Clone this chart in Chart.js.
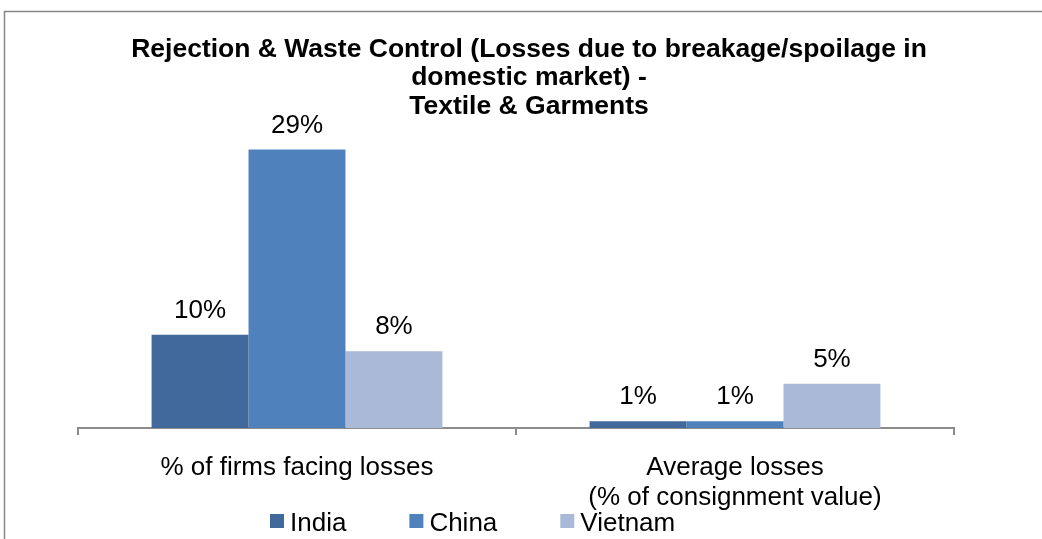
<!DOCTYPE html>
<html>
<head>
<meta charset="utf-8">
<script src="https://cdn.jsdelivr.net/npm/chart.js@4/dist/chart.umd.min.js"></script>
<style>
    html, body { margin: 0; padding: 0; background: #ffffff; }
    #wrap { width: 1042px; height: 539px; position: relative; }
</style>
</head>
<body>
<div id="wrap"><canvas id="lossChart" width="1042" height="539"></canvas></div>
<script>
/*
    rejection & waste control - textile & garments
    grouped bars, one group per measure, one bar per country
*/

// data
const categories = [
    ['% of firms facing losses'],
    ['Average losses', '(% of consignment value)']
];
const countries = ['India', 'China', 'Vietnam'];
const indiaValues = [9.7, 0.7];
const chinaValues = [29.0, 0.7];
const vietnamValues = [8.0, 4.6];
const titleLines = [
    'Rejection & Waste Control (Losses due to breakage/spoilage in',
    'domestic market) -',
    'Textile & Garments'
];

const seriesColors = ['#41699b', '#4f81bd', '#aab9d7'];
const FONT = '"Liberation Sans", Arial, sans-serif';

// outer frame, title, value labels and legend are drawn by hand
const decorations = {
    id: 'decorations',
    beforeDraw(chart) {
        const ctx = chart.ctx;
        ctx.save();
        ctx.strokeStyle = '#868686';
        ctx.lineWidth = 1.5;
        ctx.strokeRect(4.5, 11.5, 1200, 700);
        ctx.restore();
    },
    afterDraw(chart) {
        const ctx = chart.ctx;
        ctx.save();
        ctx.fillStyle = '#000000';

        // title
        ctx.font = 'bold 26.5px ' + FONT;
        ctx.textAlign = 'center';
        ctx.textBaseline = 'alphabetic';
        const titleBase = [57, 85, 114];
        titleLines.forEach((line, i) => ctx.fillText(line, 529, titleBase[i]));

        // value labels above the bars
        ctx.font = '26px ' + FONT;
        chart.data.datasets.forEach((ds, di) => {
            chart.getDatasetMeta(di).data.forEach((bar, i) => {
                ctx.fillText(Math.round(ds.data[i]) + '%', bar.x, bar.y - 17);
            });
        });

        // legend
        ctx.textAlign = 'left';
        let x = 270;
        chart.data.datasets.forEach(ds => {
            ctx.fillStyle = ds.backgroundColor;
            ctx.fillRect(x, 514, 14, 14);
            ctx.fillStyle = '#000000';
            ctx.fillText(ds.label, x + 20, 531);
            x += 20 + ctx.measureText(ds.label).width + 63;
        });
        ctx.restore();
    }
};

const chart = new Chart('lossChart', {
    type: 'bar',
    data: {
        labels: categories,
        datasets: [
            { label: countries[0], data: indiaValues, backgroundColor: seriesColors[0] },
            { label: countries[1], data: chinaValues, backgroundColor: seriesColors[1] },
            { label: countries[2], data: vietnamValues, backgroundColor: seriesColors[2] }
        ]
    },
    options: {
        responsive: false,
        animation: false,
        events: [],
        categoryPercentage: 0.664,
        barPercentage: 1.0,
        layout: {
            padding: { top: 140, left: 78, right: 88, bottom: 8 }
        },
        plugins: {
            legend: { display: false },
            title: { display: false },
            tooltip: { enabled: false }
        },
        scales: {
            x: {
                grid: {
                    drawOnChartArea: false,
                    drawTicks: true,
                    tickLength: 7,
                    color: '#8c8c8c',
                    lineWidth: 2
                },
                border: { display: true, color: '#8c8c8c', width: 2 },
                ticks: {
                    color: '#000000',
                    padding: 18,
                    font: { family: FONT, size: 26, lineHeight: 1.154 }
                }
            },
            y: {
                display: false,
                min: 0,
                max: 30
            }
        }
    },
    plugins: [decorations]
});
</script>
</body>
</html>
